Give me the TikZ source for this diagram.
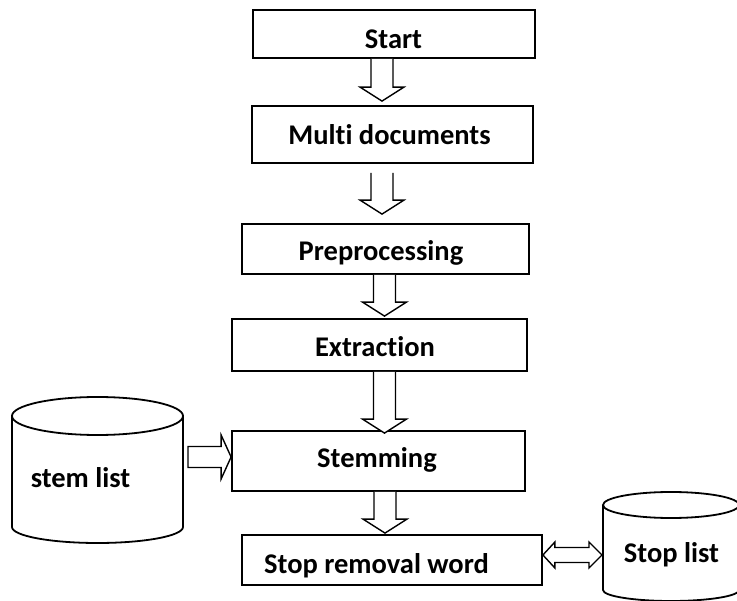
\documentclass[tikz,border=0pt]{standalone}
\usepackage{fontspec}
\setmainfont{Carlito}[Ligatures=NoCommon]
\usetikzlibrary{calc}

% down-pointing hollow block arrow: #1 top of shaft, #2 tip
\newcommand\dnblock[2]{%
  \draw[blockarrow] let \p1=#1, \p2=#2 in
    (\x1-11pt,\y1) -- (\x1-11pt,\y2+14pt) -- (\x1-22pt,\y2+14pt) -- (\x1,\y2)
    -- (\x1+22pt,\y2+14pt) -- (\x1+11pt,\y2+14pt) -- (\x1+11pt,\y1);}

\tikzset{
  box/.style={draw, line width=1.8pt, inner sep=0pt},
  label/.style={inner sep=0pt, anchor=base, font=\fontsize{28.5}{34}\selectfont\bfseries},
  blockarrow/.style={draw, line width=1.4pt, line join=miter, fill=white},
  drum/.style={line width=1.8pt},
}

\begin{document}
\begin{tikzpicture}[x=1pt, y=-1pt]
\clip (0,0) rectangle (737,601);
\fill[white] (0,0) rectangle (737,601);

% process boxes
\node[box, minimum width=282pt, minimum height=48pt] (start) at (394,34) {};
\node[box, minimum width=281pt, minimum height=57pt] (multi) at (392.5,134.5) {};
\node[box, minimum width=287pt, minimum height=50pt] (prep)  at (385.5,249) {};
\node[box, minimum width=295pt, minimum height=52pt] (extr)  at (379.5,345) {};
\node[box, minimum width=293pt, minimum height=60pt] (stem)  at (378.5,461) {};
\node[box, minimum width=300pt, minimum height=50pt] (stopw) at (392,560) {};

\node[label] (tstart) at (393.5,49)  {Start};
\node[label] (tmulti) at (389.5,145) {Multi documents};
\node[label] (tprep)  at (381,261)   {Preprocessing};
\node[label] (textr)  at (375,357)   {Extraction};
\node[label] (tstem)  at (377,468)   {Stemming};
\node[label] (tstopw) at (376.5,573) {Stop removal word};

% stem list store
\draw[drum] (12,416) -- (12,527) arc[start angle=180, end angle=360, x radius=85.5pt, y radius=16pt] -- (183,416);
\draw[drum] (97.5,416) ellipse [x radius=85.5pt, y radius=19pt];
\coordinate (stemR) at (188,457);
\node[label] (tstemlist) at (80.5,488) {stem list};

% stop list store
\draw[drum] (603,505) -- (603,590) arc[start angle=180, end angle=360, x radius=68pt, y radius=11pt] -- (739,505);
\draw[drum] (671,505) ellipse [x radius=68pt, y radius=13pt];
\coordinate (stopL) at (602,555);
\node[label] (tstoplist) at (671.5,562) {Stop list};

% flow arrows
\coordinate (ax1) at (382,0);
\coordinate (ax3) at (384.5,0);
\coordinate (ax5) at (385,0);
\dnblock{(start.south -| ax1)}{($(multi.north -| ax1)+(0,-4)$)}
\dnblock{($(multi.south -| ax1)+(0,9)$)}{($(prep.north -| ax1)+(0,-9)$)}
\dnblock{(prep.south -| ax3)}{($(extr.north -| ax3)+(0,-2)$)}
\dnblock{(extr.south -| ax3)}{($(stem.north -| ax3)+(0,3)$)}
\dnblock{(stem.south -| ax5)}{($(stopw.north -| ax5)+(0,-1)$)}

% stem list -> Stemming
\draw[blockarrow] let \p1=(stemR), \p2=(stem.west) in
  (\x1,\y1+10.5pt) -- (\x2-10pt,\y1+10.5pt) -- (\x2-10pt,\y1+22pt) -- (\x2,\y1)
  -- (\x2-10pt,\y1-22pt) -- (\x2-10pt,\y1-10.5pt) -- (\x1,\y1-10.5pt) -- cycle;

% Stop removal word <-> Stop list
\draw[blockarrow] let \p1=(stopL), \p2=(stopw.east) in
  (\x2,\y1) -- (\x2+12pt,\y1+13pt) -- (\x2+12pt,\y1+7.5pt) -- (\x1-13pt,\y1+7.5pt)
  -- (\x1-13pt,\y1+13pt) -- (\x1,\y1) -- (\x1-13pt,\y1-13pt) -- (\x1-13pt,\y1-7.5pt)
  -- (\x2+12pt,\y1-7.5pt) -- (\x2+12pt,\y1-13pt) -- cycle;
\end{tikzpicture}
\end{document}
